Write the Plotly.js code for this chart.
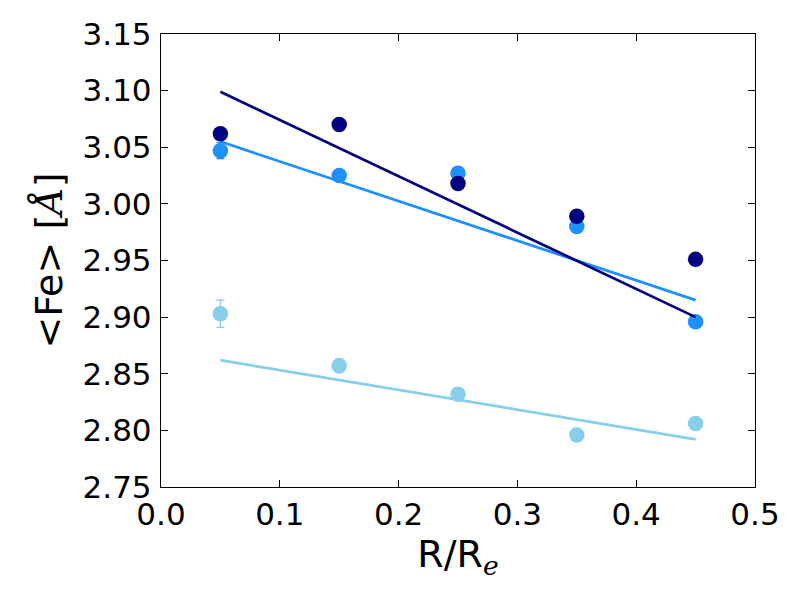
<!DOCTYPE html>
<html>
<head>
<meta charset="utf-8">
<script src="https://cdn.plot.ly/plotly-3.0.1.min.js"></script>
<style>
  body { margin: 0; background: #fff; }
  #plot { width: 800px; height: 600px; }
</style>
</head>
<body>
<div id="plot"></div>
<script>
// radial bins
const radius = [0.05, 0.15, 0.25, 0.35, 0.45];

// <Fe> per bin, three samples
const feNavy = [3.062, 3.070, 3.018, 2.989, 2.951];
const feDodger = [3.047, 3.025, 3.027, 2.980, 2.896];
const feSky = [2.903, 2.857, 2.832, 2.796, 2.806];

const errNavy = [0.003, 0.003, 0.003, 0.003, 0.003];
const errDodger = [0.007, 0.003, 0.003, 0.003, 0.004];
const errSky = [0.012, 0.006, 0.004, 0.003, 0.003];

// fitted lines (endpoints)
const fitX = [0.05, 0.45];
const fitNavy = [3.099, 2.900];
const fitDodger = [3.055, 2.915];
const fitSky = [2.862, 2.792];

const yTicks = [2.75, 2.80, 2.85, 2.90, 2.95, 3.00, 3.05, 3.10, 3.15];
const xTicks = [0.0, 0.1, 0.2, 0.3, 0.4, 0.5];

function pointsTrace(y, err, color) {
    return {
        x: radius, y: y, type: 'scatter', mode: 'markers',
        marker: { color: color, size: 15.5 },
        error_y: { type: 'data', array: err, visible: true, color: color, thickness: 1.3, width: 4 },
        hoverinfo: 'skip'
    };
}

function fitTrace(y, color) {
    return {
        x: fitX, y: y, type: 'scatter', mode: 'lines',
        line: { color: color, width: 2.7 },
        hoverinfo: 'skip'
    };
}

const data = [
    pointsTrace(feSky, errSky, '#87CEEB'),
    fitTrace(fitSky, '#87CEEB'),
    pointsTrace(feDodger, errDodger, '#1E90FF'),
    fitTrace(fitDodger, '#1E90FF'),
    pointsTrace(feNavy, errNavy, '#000080'),
    fitTrace(fitNavy, '#000080')
];

const axisCommon = {
    showgrid: false, zeroline: false, showline: true, mirror: 'ticks',
    linecolor: '#000', linewidth: 1.2,
    ticks: 'inside', ticklen: 7, tickcolor: '#000', tickwidth: 1,
    tickfont: { family: 'DejaVu Sans', size: 31, color: '#000' }
};

const layout = {
    width: 800, height: 600,
    margin: { l: 161, r: 45, t: 34, b: 113 },
    paper_bgcolor: '#fff', plot_bgcolor: '#fff',
    showlegend: false,
    xaxis: Object.assign({}, axisCommon, {
        range: [0, 0.5], tickvals: xTicks, tickformat: '.1f', ticklabelstandoff: 0,
        title: { text: 'R/R<sub><i style="font-family:DejaVu Serif">e</i></sub>',
                 font: { family: 'DejaVu Sans', size: 38, color: '#000' }, standoff: 4 }
    }),
    yaxis: Object.assign({}, axisCommon, {
        range: [2.75, 3.15], tickvals: yTicks, tickformat: '.2f', ticklabelstandoff: 2,
        title: { text: '&lt;Fe&gt; [<i style="font-family:DejaVu Serif">Å</i>]',
                 font: { family: 'DejaVu Sans', size: 38, color: '#000' }, standoff: 8 }
    })
};

Plotly.newPlot('plot', data, layout, { displayModeBar: false, staticPlot: true });
</script>
</body>
</html>
